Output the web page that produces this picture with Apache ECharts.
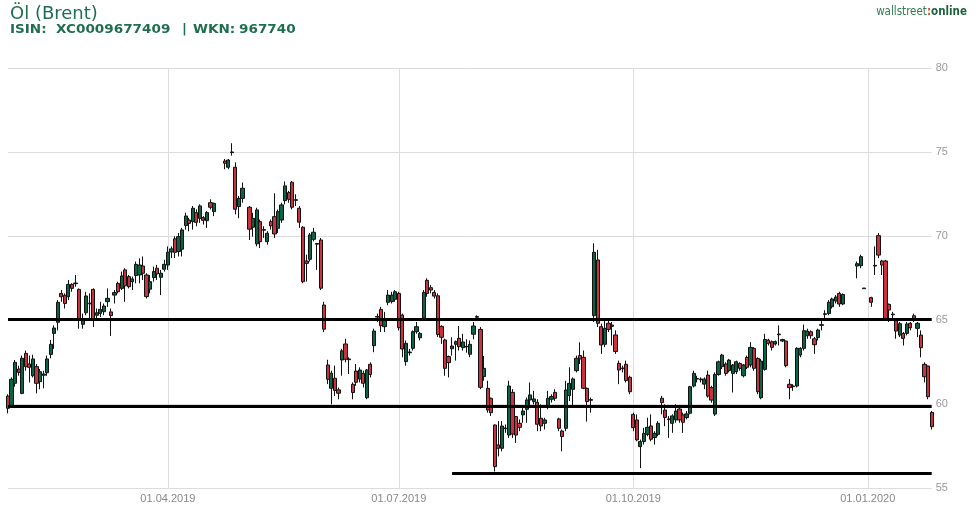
<!DOCTYPE html>
<html><head><meta charset="utf-8">
<script src="https://cdn.jsdelivr.net/npm/echarts@6/dist/echarts.min.js"></script>
<style>html,body{margin:0;padding:0;background:#fff}#c{width:976px;height:510px}</style>
</head><body><div id="c"></div>
<script>
// ---- data ----
const firstDay = '2019-01-28';
const lastDay = '2020-01-27';
const tickLabels = ['01.04.2019','01.07.2019','01.10.2019','01.01.2020'];
const levelLines = [65.05, 59.9];
const supportLevel = 55.92;
const supportStart = '22.07.2019';

const opens = [
60.49,59.92,61.25,62.1,60.65, 63.03,62.4,61.7,62.24,61.35, 61.73,61.88,62.97,64.22,64.88,
66.6,66.49,66.4,67.14,67.18, 66.84,64.76,65.45,66.02,66.84, 65.3,65.41,65.51,66.11,65.5,
66.5,67.2,66.9,68.0,67.6, 67.3,67.66,67.7,68.23,67.7, 66.85,67.54,68.1,67.56,68.04,
68.29,69.07,69.85,69.09,69.23, 70.64,70.97,70.87,71.41,71.07, 71.11,70.93,72.0,71.47,null,
null,74.48,74.11,74.98,74.11, 71.77,72.26,null,71.73,70.54, 69.55,70.87,70.36,69.68,70.87,
71.17,70.48,70.97,72.12,72.6, 73.22,72.14,71.67,70.54,68.53, 68.63,69.82,69.57,69.78,65.91,
62.34,60.95,61.55,60.86,62.64, 63.59,62.66,61.19,61.98,61.5, 61.84,60.39,62.38,63.49,65.19,
65.65,64.62,66.07,66.11,66.25, 66.6,65.31,62.54,63.07,63.33, 64.32,63.96,65.12,67.38,66.94,
66.66,66.46,64.64,63.83,62.84, 63.31,63.57,63.93,63.37,63.41, 62.98,64.17,65.18,64.46,61.65,
60.95,60.36,58.77,57.58,57.38, 58.55,58.17,60.71,59.27,58.87, 59.37,59.7,60.26,60.16,60.12,
59.17,58.87,59.9,60.3,60.71, 59.13,58.41,58.57,60.52,60.89, 62.0,62.9,62.8,60.95,60.24,
65.28,68.59,64.62,63.57,64.82, 64.64,64.13,62.44,62.12,62.38, 61.61,59.4,59.07,57.48,57.78,
58.21,58.71,58.02,58.21,60.36, 59.66,59.09,58.87,59.07,59.72, 59.37,59.21,59.47,61.09,61.5,
61.46,61.2,61.74,60.99,59.42, 61.78,62.24,62.4,62.0,61.84, 61.94,62.43,61.7,62.79,62.34,
63.33,62.73,60.39,62.08,63.82, 63.72,63.59,64.14,63.77,63.76, 61.19,61.05,61.09,62.93,63.33,
64.08,64.32,63.9,63.97,64.7, 65.35,65.41,65.81,66.15,66.6, 65.97,null,null,null,68.23,
68.25,66.88,null,66.35,68.23, 70.04,68.53,68.53,65.95,65.33, 64.98,64.12,64.22,64.22,64.82,
65.27,64.52,64.12,62.38,62.28, 59.52
];
const closes = [
59.76,61.49,62.5,61.9,62.74, 62.24,62.2,62.7,61.25,61.94, 61.8,62.7,63.57,64.54,66.07,
66.4,66.0,67.14,66.9,67.22, 65.06,65.02,66.45,65.98,65.06, 65.45,65.65,65.85,66.31,65.28,
66.65,66.7,67.64,67.05,67.0, 67.46,68.33,68.29,67.8,66.41, 67.3,67.9,67.76,67.8,68.33,
69.05,69.25,69.05,69.98,70.38, 71.21,70.77,71.67,70.83,71.81, 70.95,71.41,71.73,71.96,null,
null,74.35,74.54,75.02,71.61, 72.26,72.86,null,70.42,71.07, 71.57,69.68,70.4,70.18,70.62,
70.14,71.47,71.87,73.0,72.2, 71.73,72.18,70.84,67.3,68.39, 70.08,70.24,69.53,66.91,64.47,
61.49,61.85,60.82,60.66,63.18, 62.68,62.7,60.7,61.31,62.04, 61.25,62.04,61.78,64.36,65.23,
64.68,65.02,66.5,66.5,66.7, 64.56,63.29,63.63,63.11,64.32, 64.62,64.22,66.66,66.6,66.8,
66.44,64.16,63.99,62.14,62.48, 63.47,63.73,63.43,63.71,63.45, 63.57,64.66,65.22,61.01,62.14,
59.66,59.5,56.29,57.38,58.71, 58.59,61.09,58.23,58.17,58.63, 59.6,60.26,60.56,60.32,58.81,
58.71,59.07,60.36,60.46,60.36, 58.57,58.08,60.85,61.25,61.51, 62.74,62.7,60.95,60.16,60.28,
69.05,64.82,63.53,64.52,64.46, 64.72,63.14,62.04,62.16,61.41, 60.75,58.61,57.88,57.78,58.27,
58.63,57.92,58.27,58.87,60.1, 59.21,59.13,59.31,59.6,59.07, 58.93,59.43,61.05,61.84,61.54,
61.5,61.5,60.49,60.25,61.78, 62.53,62.93,61.84,62.63,62.34, 62.53,62.14,62.34,62.2,63.39,
62.14,60.75,62.57,63.86,63.63, 63.39,63.73,64.18,63.86,62.3, 60.99,61.09,63.33,63.33,64.38,
64.36,64.08,63.55,64.42,64.74, 65.39,66.07,66.27,66.38,65.97, 66.54,null,null,null,68.37,
68.79,66.92,null,66.07,68.27, 68.88,68.29,65.07,65.61,65.37, 64.36,64.8,63.92,64.78,64.56,
65.02,64.82,63.37,61.64,60.45, 58.67
];
const lows = [
59.46,59.8,61.05,61.7,60.6, 62.0,61.3,61.6,60.65,60.9, 60.95,61.7,62.74,63.3,64.4,
66.1,65.7,66.2,66.7,67.0, 64.5,64.5,65.3,65.1,64.6, 65.1,65.2,65.3,65.8,64.07,
66.0,66.6,66.8,66.1,66.9, 66.8,67.2,67.2,67.4,66.3, 66.6,67.3,67.4,66.5,67.9,
68.0,68.7,68.7,68.8,68.8, 70.4,70.3,70.4,70.6,70.8, 70.7,70.5,71.6,71.2,null,
null,73.99,74.0,74.8,71.3, 71.07,72.0,null,69.78,69.98, 69.4,69.3,69.9,69.5,70.4,
69.9,70.2,70.8,71.9,72.0, 71.6,71.8,70.5,67.2,67.3, 68.5,69.7,68.0,66.8,64.3,
61.2,60.0,60.5,60.3,61.7, 62.5,61.8,60.3,61.1,61.3, 61.0,60.3,61.6,63.1,64.9,
64.3,64.3,65.9,66.0,66.1, 64.4,62.8,62.3,62.9,63.2, 64.2,63.8,65.0,66.4,66.6,
66.3,64.0,63.6,61.7,61.6, 62.9,62.6,63.2,63.2,63.07, 62.8,63.87,65.1,60.9,61.4,
59.5,59.3,56.0,56.9,57.2, 58.3,58.0,58.0,57.7,58.4, 58.9,58.9,59.9,60.0,58.4,
58.4,58.5,59.7,60.1,60.2, 58.4,57.2,58.4,60.2,59.9, 61.9,62.4,60.9,58.97,59.5,
64.9,64.6,63.0,63.4,64.3, 63.5,63.0,61.2,61.9,61.3, 60.6,58.4,57.8,56.2,57.6,
58.1,57.8,57.6,58.1,59.4, 58.7,58.0,58.3,58.9,58.9, 58.3,59.1,59.4,61.0,61.3,
61.3,60.9,60.4,60.1,59.3, 61.7,62.1,61.7,61.9,60.7, 61.8,62.0,61.6,62.1,62.2,
62.0,60.6,60.3,62.0,63.5, 63.2,63.5,63.5,63.7,62.2, 60.3,60.8,61.0,62.8,63.2,
63.9,63.9,63.0,63.8,64.4, 65.1,65.3,65.7,66.0,65.8, 65.9,null,null,null,67.5,
68.1,66.88,null,65.8,67.7, 68.7,67.7,65.0,64.9,65.0, 63.9,64.0,63.5,64.1,64.4,
64.9,64.0,62.8,61.3,60.3, 58.5
];
const highs = [
60.6,61.6,62.64,62.3,62.9, 63.2,62.9,62.95,62.4,62.1, 62.0,62.9,63.83,64.7,66.2,
66.8,66.6,67.4,67.2,67.7, 66.9,65.4,66.7,66.6,66.9, 65.7,66.1,66.0,66.9,65.7,
66.8,67.3,67.9,68.1,67.7, 67.6,68.5,68.69,68.8,67.8, 67.7,68.2,68.3,68.0,68.6,
69.4,69.4,70.0,70.2,70.5, 71.4,71.1,71.8,71.6,71.9, 71.2,71.5,72.2,72.0,null,
null,74.6,74.6,75.54,74.4, 72.4,73.2,null,71.8,71.4, 71.7,71.0,70.6,70.3,71.0,
72.56,71.6,72.0,73.26,72.7, 73.3,72.5,71.8,70.6,68.9, 70.2,70.5,69.6,69.9,66.1,
62.65,62.0,62.3,61.0,63.3, 63.9,62.8,61.3,62.4,62.2, 62.0,62.1,62.5,64.5,65.4,
65.8,65.5,66.8,66.7,66.8, 66.7,65.4,63.8,63.3,64.4, 64.9,64.3,66.8,67.5,67.1,
66.8,66.6,64.7,63.9,62.9, 63.99,63.8,64.66,64.2,63.87, 63.8,64.9,65.3,64.6,62.88,
61.4,60.4,58.8,59.0,59.0, 58.8,61.4,60.9,59.3,59.1, 59.8,60.4,61.3,60.8,60.3,
60.0,59.2,60.8,60.6,60.9, 59.2,58.5,61.4,62.2,61.6, 62.9,63.69,63.2,61.0,60.4,
69.58,69.2,64.8,65.0,65.0, 64.9,64.4,62.6,62.3,62.6, 61.7,59.5,59.4,57.9,58.6,
59.2,59.4,58.4,59.0,60.5, 60.0,59.3,59.4,60.0,59.8, 59.5,59.6,61.1,62.0,61.7,
61.6,61.6,62.0,61.1,61.9, 62.6,63.0,62.5,62.7,62.4, 62.6,62.5,62.4,62.9,63.7,
63.4,62.8,62.7,64.2,63.9, 63.8,63.8,64.7,63.9,63.8, 61.5,61.2,63.4,63.4,64.75,
64.5,64.4,64.0,64.5,64.95, 65.6,66.2,66.35,66.5,66.7, 66.6,null,null,null,68.5,
68.9,66.92,null,66.4,69.4, 70.2,68.6,68.6,66.0,65.5, 65.1,64.9,64.3,64.9,64.9,
65.4,64.9,64.4,62.5,62.3, 59.6
];

// weekday calendar (category labels)
function weekdayCalendar(from, to) {
  const out = [];
  const d = new Date(from + 'T00:00:00Z');
  const end = new Date(to + 'T00:00:00Z');
  while (d <= end) {
    const wd = d.getUTCDay();
    if (wd !== 0 && wd !== 6) {
      out.push(String(d.getUTCDate()).padStart(2, '0') + '.' +
               String(d.getUTCMonth() + 1).padStart(2, '0') + '.' + d.getUTCFullYear());
    }
    d.setUTCDate(d.getUTCDate() + 1);
  }
  return out;
}
const categories = weekdayCalendar(firstDay, lastDay);
const candles = categories.map((_, i) =>
  opens[i] == null ? '-' : [opens[i], closes[i], lows[i], highs[i]]);

const GREEN = '#0a6344';
const RED = '#c8323e';
const TITLE = '#1f6e4f';
const isTick = (idx, val) => tickLabels.indexOf(val) >= 0;
const subFont = 'bold 11.5px "DejaVu Sans"';
const sub = (text, x) => ({ type: 'text', x: x, y: 30, scaleX: 1.18, style: { text: text, font: subFont, fill: TITLE, textVerticalAlign: 'middle' } });

const chart = echarts.init(document.getElementById('c'));
chart.setOption({
  animation: false,
  backgroundColor: '#fff',
  grid: { left: 8, right: 44.3, top: 68.3, bottom: 21.7 },
  graphic: [
    { type: 'text', x: 10, y: 14, style: { text: 'Öl (Brent)', font: '18px "DejaVu Sans"', fill: TITLE, textVerticalAlign: 'middle' } },
    sub('ISIN:', 10), sub('XC0009677409', 56), sub('|', 182), sub('WKN:', 193), sub('967740', 239),
    { type: 'text', x: 967, y: 12,
      style: {
        text: '{a|wallstreet}{b|:}{c|online}', textAlign: 'right', textVerticalAlign: 'middle',
        rich: {
          a: { font: '11.5px "DejaVu Sans Condensed"', fill: '#2e7b52' },
          b: { font: 'bold 11.5px "DejaVu Sans Condensed"', fill: '#e0502a' },
          c: { font: 'bold 11.5px "DejaVu Sans Condensed"', fill: '#1e5f3c' }
        }
      } }
  ],
  xAxis: {
    type: 'category', data: categories, boundaryGap: false,
    axisLine: { show: false }, axisTick: { show: false },
    axisLabel: { interval: isTick, color: '#888', fontSize: 11, fontFamily: 'Liberation Sans', margin: 5 },
    splitLine: { show: true, interval: isTick, lineStyle: { color: '#dcdcdc', width: 1 } }
  },
  yAxis: {
    type: 'value', position: 'right', min: 55, max: 80, interval: 5,
    axisLine: { show: false }, axisTick: { show: false },
    axisLabel: { color: '#999', fontSize: 11, fontFamily: 'Liberation Sans', margin: 4 },
    splitLine: { lineStyle: { color: '#dcdcdc', width: 1 } }
  },
  series: [{
    type: 'candlestick', data: candles, barWidth: 3.7, clip: false,
    itemStyle: { color: GREEN, color0: RED, borderColor: '#111', borderColor0: '#111', borderWidth: 1 },
    emphasis: { disabled: true },
    markLine: {
      silent: true, symbol: ['none', 'none'], label: { show: false },
      lineStyle: { color: '#000', width: 3, type: 'solid' },
      emphasis: { disabled: true },
      data: [
        { yAxis: levelLines[0] },
        { yAxis: levelLines[1] },
        [ { coord: [supportStart, supportLevel] }, { coord: [categories[categories.length - 1], supportLevel] } ]
      ]
    }
  }]
});
</script></body></html>
